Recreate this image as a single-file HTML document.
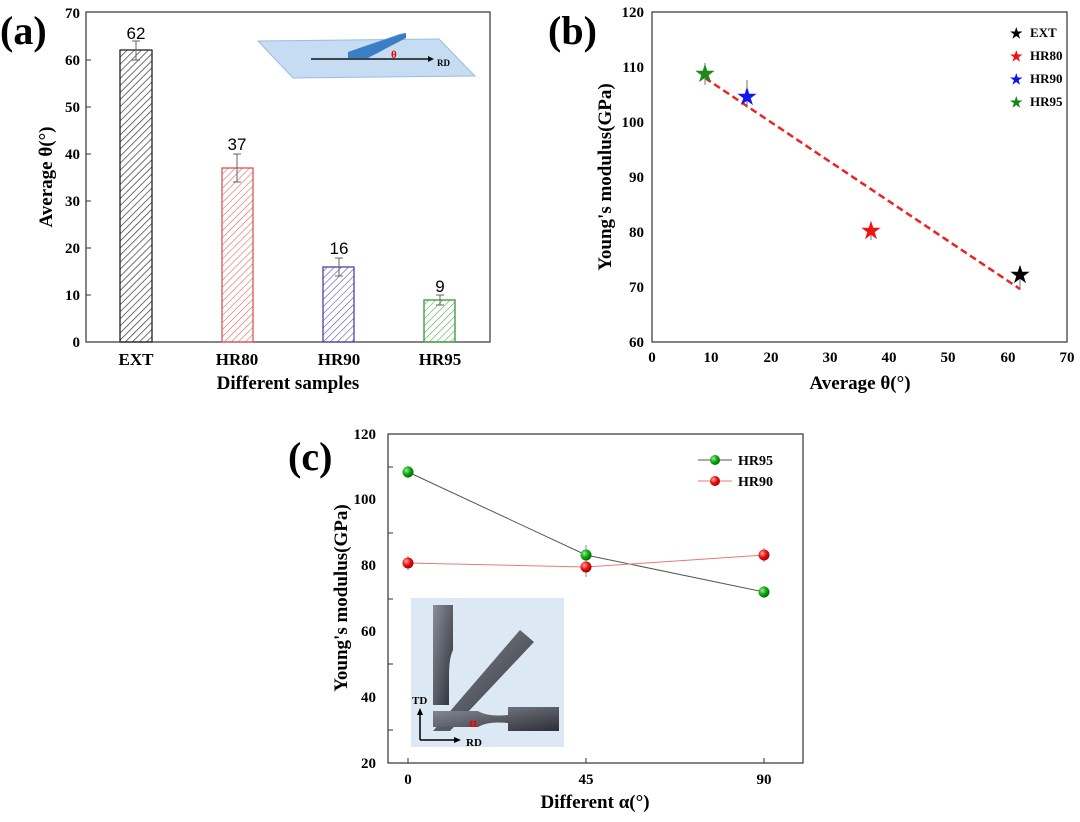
<!DOCTYPE html>
<html><head><meta charset="utf-8"><style>body{margin:0;background:#fff}svg{display:block}text{font-family:"Liberation Serif",serif;font-weight:bold}text.s{font-family:"Liberation Sans",sans-serif;font-weight:normal}</style></head><body>
<svg width="1080" height="822" viewBox="0 0 1080 822">
<defs>
<pattern id="hk" width="5" height="5" patternUnits="userSpaceOnUse" patternTransform="rotate(45)"><line x1="0" y1="0" x2="0" y2="5" stroke="#333" stroke-width="1.4"/></pattern>
<pattern id="hr" width="5" height="5" patternUnits="userSpaceOnUse" patternTransform="rotate(45)"><line x1="0" y1="0" x2="0" y2="5" stroke="#d66" stroke-width="1.2"/></pattern>
<pattern id="hb" width="5" height="5" patternUnits="userSpaceOnUse" patternTransform="rotate(45)"><line x1="0" y1="0" x2="0" y2="5" stroke="#55a" stroke-width="1.2"/></pattern>
<pattern id="hg" width="5" height="5" patternUnits="userSpaceOnUse" patternTransform="rotate(45)"><line x1="0" y1="0" x2="0" y2="5" stroke="#5a5" stroke-width="1.2"/></pattern>
<radialGradient id="gg" cx="0.35" cy="0.35" r="0.7"><stop offset="0" stop-color="#9e9"/><stop offset="0.5" stop-color="#1a1"/><stop offset="1" stop-color="#060"/></radialGradient>
<radialGradient id="gr" cx="0.35" cy="0.35" r="0.7"><stop offset="0" stop-color="#faa"/><stop offset="0.5" stop-color="#e11"/><stop offset="1" stop-color="#900"/></radialGradient>
<linearGradient id="sp" x1="0" y1="0" x2="1" y2="1"><stop offset="0" stop-color="#8a8e99"/><stop offset="1" stop-color="#2c2e36"/></linearGradient>
</defs>
<!-- (a) -->
<text x="0" y="44" font-size="40">(a)</text>
<rect x="86" y="12" width="404" height="330" fill="none" stroke="#333" stroke-width="1.2"/>
<g font-size="15" text-anchor="end">
<text x="80" y="347">0</text><text x="80" y="300">10</text><text x="80" y="253">20</text><text x="80" y="206">30</text><text x="80" y="159">40</text><text x="80" y="112">50</text><text x="80" y="65">60</text><text x="80" y="18">70</text>
</g>
<g stroke="#333"><line x1="86" y1="295" x2="91" y2="295"/><line x1="86" y1="248" x2="91" y2="248"/><line x1="86" y1="201" x2="91" y2="201"/><line x1="86" y1="154" x2="91" y2="154"/><line x1="86" y1="107" x2="91" y2="107"/><line x1="86" y1="60" x2="91" y2="60"/></g>
<rect x="120" y="50" width="32" height="292" fill="url(#hk)" stroke="#222" stroke-width="1.3"/>
<rect x="222" y="168" width="31" height="174" fill="url(#hr)" stroke="#d55" stroke-width="1.3"/>
<rect x="323" y="267" width="31" height="75" fill="url(#hb)" stroke="#44a" stroke-width="1.3"/>
<rect x="424" y="300" width="31" height="42" fill="url(#hg)" stroke="#393" stroke-width="1.3"/>
<g stroke="#666"><line x1="136" y1="41" x2="136" y2="60"/><line x1="132" y1="41" x2="140" y2="41"/><line x1="132" y1="60" x2="140" y2="60"/>
<line x1="237" y1="154" x2="237" y2="182"/><line x1="233" y1="154" x2="241" y2="154"/><line x1="233" y1="182" x2="241" y2="182"/>
<line x1="339" y1="258" x2="339" y2="276"/><line x1="335" y1="258" x2="343" y2="258"/><line x1="335" y1="276" x2="343" y2="276"/>
<line x1="440" y1="295" x2="440" y2="305"/><line x1="436" y1="295" x2="444" y2="295"/><line x1="436" y1="305" x2="444" y2="305"/></g>
<g font-size="17" text-anchor="middle">
<text class="s" x="136" y="39">62</text><text class="s" x="237" y="150">37</text><text class="s" x="339" y="254">16</text><text class="s" x="440" y="292">9</text></g>
<g font-size="17" text-anchor="middle"><text x="136" y="365">EXT</text><text x="237" y="365">HR80</text><text x="339" y="365">HR90</text><text x="440" y="365">HR95</text></g>
<text x="288" y="389" font-size="19" text-anchor="middle">Different samples</text>
<text transform="translate(52,177) rotate(-90)" font-size="19" text-anchor="middle">Average θ(°)</text>
<polygon points="258,41 439,39 475,76 293,78" fill="#c5dcf3" stroke="#9bbde0"/>
<polygon points="348,52 400,34 406,33 406,38 368,58 348,58" fill="#3a7fc4"/>
<polygon points="348,52 400,34 406,33 354,50" fill="#5a9ad8"/>
<line x1="311" y1="59" x2="428" y2="59" stroke="#111" stroke-width="1.5"/><polygon points="428,56 434,59 428,62" fill="#111"/>
<text x="391" y="58" font-size="11" fill="#e00">θ</text><text x="437" y="66" font-size="9">RD</text>
<!-- (b) -->
<text x="548" y="44" font-size="40">(b)</text>
<rect x="652" y="12" width="415" height="330" fill="none" stroke="#333" stroke-width="1.2"/>
<g font-size="15" text-anchor="end"><text x="644" y="347">60</text><text x="644" y="292">70</text><text x="644" y="237">80</text><text x="644" y="182">90</text><text x="644" y="127">100</text><text x="644" y="72">110</text><text x="644" y="17">120</text></g>
<g font-size="15" text-anchor="middle"><text x="652" y="362">0</text><text x="711" y="362">10</text><text x="771" y="362">20</text><text x="830" y="362">30</text><text x="889" y="362">40</text><text x="948" y="362">50</text><text x="1008" y="362">60</text><text x="1067" y="362">70</text></g>
<text x="860" y="389" font-size="19" text-anchor="middle">Average θ(°)</text>
<text transform="translate(611,177) rotate(-90)" font-size="19" text-anchor="middle">Young's modulus(GPa)</text>
<line x1="705" y1="78" x2="1020" y2="289" stroke="#e22" stroke-width="2.5" stroke-dasharray="7,4"/>
<g stroke="#777"><line x1="705" y1="63" x2="705" y2="85"/><line x1="747" y1="80" x2="747" y2="108"/><line x1="871" y1="222" x2="871" y2="240"/><line x1="1020" y1="274" x2="1020" y2="290"/></g>
<g font-size="22" text-anchor="middle" style="font-family:'DejaVu Sans',sans-serif">
<text x="705" y="81" fill="#1a8a1a">★</text><text x="747" y="104" fill="#1515ee">★</text><text x="871" y="238" fill="#ee1515">★</text><text x="1020" y="282" fill="#000">★</text></g>
<g font-size="14" style="font-family:'DejaVu Sans',sans-serif"><text x="1010" y="38">★</text><text x="1010" y="61" fill="#e11">★</text><text x="1010" y="84" fill="#11e">★</text><text x="1010" y="107" fill="#181">★</text></g>
<g font-size="13"><text x="1030" y="37">EXT</text><text x="1030" y="60">HR80</text><text x="1030" y="83">HR90</text><text x="1030" y="106">HR95</text></g>
<!-- (c) -->
<text x="288" y="470" font-size="40">(c)</text>
<rect x="388" y="434" width="415" height="329" fill="none" stroke="#333" stroke-width="1.2"/>
<g font-size="15" text-anchor="end"><text x="376" y="768">20</text><text x="376" y="702">40</text><text x="376" y="636">60</text><text x="376" y="570">80</text><text x="376" y="504">100</text><text x="376" y="439">120</text></g>
<g stroke="#333"><line x1="388" y1="730" x2="393" y2="730"/><line x1="388" y1="664" x2="393" y2="664"/><line x1="388" y1="599" x2="393" y2="599"/><line x1="388" y1="533" x2="393" y2="533"/><line x1="388" y1="467" x2="393" y2="467"/>
<line x1="408" y1="763" x2="408" y2="758"/><line x1="586" y1="763" x2="586" y2="758"/><line x1="764" y1="763" x2="764" y2="758"/></g>
<g font-size="15" text-anchor="middle"><text x="408" y="784">0</text><text x="586" y="784">45</text><text x="764" y="784">90</text></g>
<text x="595" y="808" font-size="19" text-anchor="middle">Different α(°)</text>
<text transform="translate(347,598) rotate(-90)" font-size="19" text-anchor="middle">Young's modulus(GPa)</text>
<polyline points="408,472 586,555 764,592" fill="none" stroke="#555" stroke-width="1"/>
<polyline points="408,563 586,567 764,555" fill="none" stroke="#e77" stroke-width="1"/>
<g stroke="#888"><line x1="408" y1="466" x2="408" y2="478"/><line x1="586" y1="545" x2="586" y2="564"/><line x1="764" y1="586" x2="764" y2="598"/><line x1="408" y1="556" x2="408" y2="570"/><line x1="586" y1="557" x2="586" y2="577"/><line x1="764" y1="548" x2="764" y2="562"/></g>
<g fill="url(#gg)"><circle cx="408" cy="472" r="5.5"/><circle cx="586" cy="555" r="5.5"/><circle cx="764" cy="592" r="5.5"/></g>
<g fill="url(#gr)"><circle cx="408" cy="563" r="5.5"/><circle cx="586" cy="567" r="5.5"/><circle cx="764" cy="555" r="5.5"/></g>
<line x1="698" y1="460" x2="732" y2="460" stroke="#555"/><circle cx="715" cy="460" r="5" fill="url(#gg)"/>
<line x1="698" y1="481" x2="732" y2="481" stroke="#e77"/><circle cx="715" cy="481" r="5" fill="url(#gr)"/>
<g font-size="14"><text x="738" y="465">HR95</text><text x="738" y="486">HR90</text></g>
<rect x="411" y="598" width="153" height="149" fill="#dce8f4"/>
<path d="M433,605 h20 v45 q-4,8 -4,25 v30 l-16,0 z" fill="url(#sp)"/>
<path d="M433,731 L520,630 L534,642 L450,731 z" fill="url(#sp)"/>
<path d="M433,711 h45 q10,6 30,4 v-8 h51 v24 h-51 v-8 q-20,-2 -30,4 h-45 z" fill="url(#sp)"/>
<line x1="420" y1="740" x2="420" y2="713" stroke="#000" stroke-width="1.5"/><polygon points="417,715 420,708 423,715"/>
<line x1="420" y1="740" x2="456" y2="740" stroke="#000" stroke-width="1.5"/><polygon points="454,737 461,740 454,743"/>
<text x="412" y="704" font-size="11">TD</text><text x="466" y="746" font-size="11">RD</text>
<text x="469" y="727" font-size="14" fill="#e00">α</text>
</svg>
</body></html>
